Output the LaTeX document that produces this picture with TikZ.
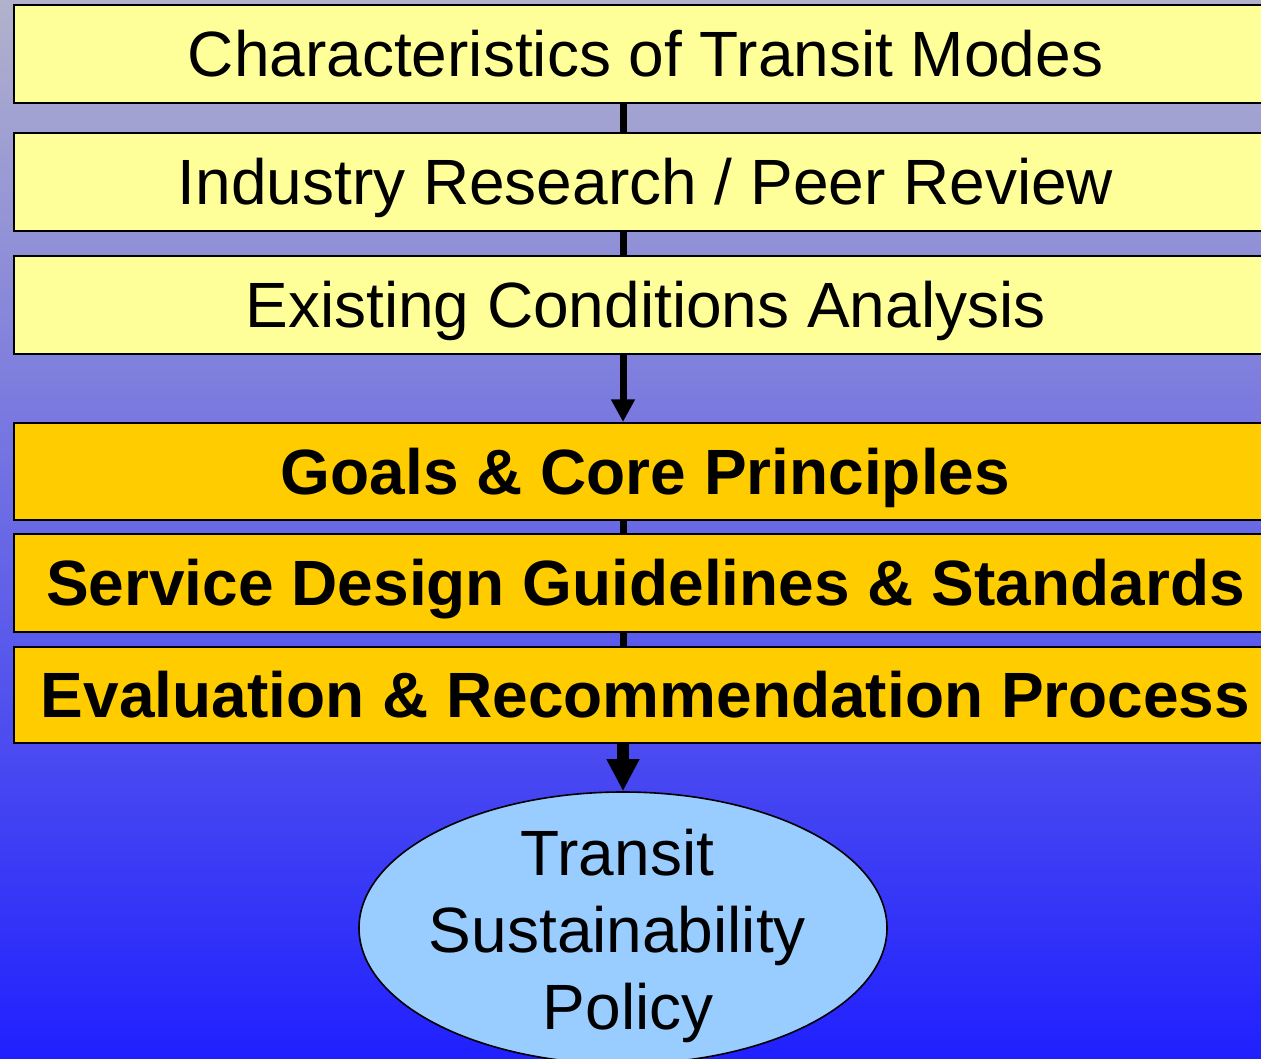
\documentclass[tikz,border=0pt]{standalone}
\usepackage{fontspec}
\setmainfont{Liberation Sans}
\usetikzlibrary{shapes.geometric,arrows.meta}
\definecolor{bgtop}{HTML}{B2B2CC}
\definecolor{bgbot}{HTML}{2020FF}
\definecolor{paleyellow}{HTML}{FFFF99}
\definecolor{gold}{HTML}{FFCC00}
\definecolor{skyblue}{HTML}{99CCFF}
\tikzset{
  stepbox/.style={draw=black, line width=1.5pt, rectangle, inner sep=0pt,
    minimum width=947.25pt, text height=34.4pt, text depth=0pt,
    font=\fontsize{48}{56}\selectfont},
  lightbox/.style={stepbox, fill=paleyellow},
  boldbox/.style={stepbox, fill=gold, font=\fontsize{48}{56}\selectfont\bfseries},
  link/.style={draw=black, line width=5.25pt},
  thinarrow/.style={link, -{Triangle[width=17pt,length=17pt]}},
  thickarrow/.style={draw=black, line width=9pt, -{Triangle[width=23pt,length=24pt]}},
}
\begin{document}
\begin{tikzpicture}[x=0.75pt,y=-0.75pt]
\useasboundingbox (0,0) rectangle (1261,1059);
\clip (0,0) rectangle (1261,1059);
\shade[top color=bgtop, bottom color=bgbot] (0,0) rectangle (1261,1059);
% boxes
\node[lightbox, minimum height=73.5pt] (b1) at (645.5,54) {Characteristics of Transit Modes};
\node[lightbox, minimum height=73.5pt] (b2) at (645.5,182) {Industry Research / Peer Review};
\node[lightbox, minimum height=73.5pt] (b3) at (645.5,305) {Existing Conditions Analysis};
\node[boldbox, minimum height=72.75pt] (b4) at (645.5,471.5) {Goals \& Core Principles};
\node[boldbox, minimum height=73.5pt] (b5) at (645.5,583) {Service Design Guidelines \& Standards};
\node[boldbox, minimum height=72pt] (b6) at (645.5,695) {Evaluation \& Recommendation Process};
% ellipse
\node[ellipse, draw=black, line width=1.2pt, fill=skyblue, inner sep=0pt,
      minimum width=396pt, minimum height=204pt] (e) at (623,928) {};
\node[align=center, inner sep=0pt, font=\fontsize{48}{57.75}\selectfont] (etxt) at (617.5,936)
  {Transit\\Sustainability\\\hspace*{16pt}Policy};
% connectors
\draw[link] (b1.south -| e.center) -- (b2.north -| e.center);
\draw[link] (b2.south -| e.center) -- (b3.north -| e.center);
\draw[thinarrow] (b3.south -| e.center) -- (b4.north -| e.center);
\draw[link] (b4.south -| e.center) -- (b5.north -| e.center);
\draw[link] (b5.south -| e.center) -- (b6.north -| e.center);
\draw[thickarrow] (b6.south -| e.center) -- (e.north);
\end{tikzpicture}
\end{document}
